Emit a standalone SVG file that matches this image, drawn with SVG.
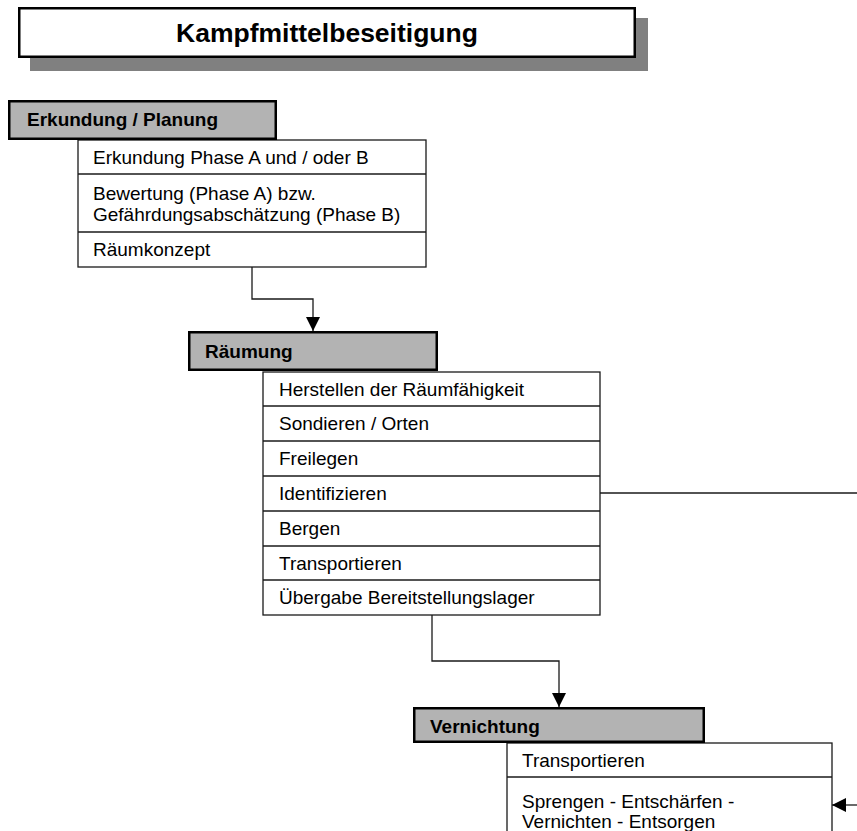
<svg xmlns="http://www.w3.org/2000/svg" width="857" height="831" viewBox="0 0 857 831">
<style>
  text { font-family: "Liberation Sans", Arial, sans-serif; fill: #000; }
  .title { font-size: 26.5px; font-weight: bold; }
  .hdr-text { font-size: 19px; font-weight: bold; }
  .item { font-size: 19px; }
  .hdr { fill: #b3b3b3; stroke: #000; stroke-width: 2.5; }
  .box { fill: #fff; stroke: #1a1a1a; stroke-width: 1.3; }
  .sep { stroke: #1a1a1a; stroke-width: 1.3; }
  .conn { fill: none; stroke: #1a1a1a; stroke-width: 1.3; }
</style>
<defs>
  <marker id="arrow" viewBox="0 0 10 10" refX="10" refY="5" markerWidth="14" markerHeight="14" markerUnits="userSpaceOnUse" orient="auto">
    <path d="M0,0 L10,5 L0,10 z" fill="#000"/>
  </marker>
</defs>
<rect width="857" height="831" fill="#fff"/>

<g id="title">
  <rect x="30" y="18" width="618" height="53" fill="#808080"/>
  <rect x="19.25" y="8.25" width="615.5" height="48.5" fill="#fff" stroke="#000" stroke-width="2.5"/>
  <text class="title" x="327" y="42" text-anchor="middle">Kampfmittelbeseitigung</text>
</g>

<g id="connectors">
  <path class="conn" d="M252,267 V299 H313 V331" marker-end="url(#arrow)"/>
  <path class="conn" d="M432,615 V661 H559 V707" marker-end="url(#arrow)"/>
  <path class="conn" d="M600,493 H857"/>
  <path class="conn" d="M857,805 H832" marker-end="url(#arrow)"/>
</g>

<g id="erkundung">
  <rect class="box" x="78" y="140" width="348" height="127"/>
  <line class="sep" x1="78" y1="174" x2="426" y2="174"/>
  <line class="sep" x1="78" y1="232" x2="426" y2="232"/>
  <text class="item" x="93" y="164">Erkundung Phase A und / oder B</text>
  <text class="item" x="93" y="200">Bewertung (Phase A) bzw.</text>
  <text class="item" x="93" y="221">Gefährdungsabschätzung (Phase B)</text>
  <text class="item" x="93" y="256">Räumkonzept</text>
  <rect class="hdr" x="9.25" y="101.25" width="266.5" height="37.5"/>
  <text class="hdr-text" x="27" y="126">Erkundung / Planung</text>
</g>

<g id="raeumung">
  <rect class="box" x="263" y="372" width="337" height="243"/>
  <line class="sep" x1="263" y1="406" x2="600" y2="406"/>
  <line class="sep" x1="263" y1="441" x2="600" y2="441"/>
  <line class="sep" x1="263" y1="476" x2="600" y2="476"/>
  <line class="sep" x1="263" y1="511" x2="600" y2="511"/>
  <line class="sep" x1="263" y1="546" x2="600" y2="546"/>
  <line class="sep" x1="263" y1="580" x2="600" y2="580"/>
  <text class="item" x="279" y="396">Herstellen der Räumfähigkeit</text>
  <text class="item" x="279" y="430">Sondieren / Orten</text>
  <text class="item" x="279" y="465">Freilegen</text>
  <text class="item" x="279" y="500">Identifizieren</text>
  <text class="item" x="279" y="535">Bergen</text>
  <text class="item" x="279" y="570">Transportieren</text>
  <text class="item" x="279" y="604">Übergabe Bereitstellungslager</text>
  <rect class="hdr" x="189.25" y="332.25" width="247.5" height="37.5"/>
  <text class="hdr-text" x="205" y="358">Räumung</text>
</g>

<g id="vernichtung">
  <rect class="box" x="507" y="743" width="325" height="100"/>
  <line class="sep" x1="507" y1="777" x2="832" y2="777"/>
  <text class="item" x="522" y="767">Transportieren</text>
  <text class="item" x="522" y="808">Sprengen - Entschärfen -</text>
  <text class="item" x="522" y="828">Vernichten - Entsorgen</text>
  <rect class="hdr" x="414.25" y="708.25" width="289.5" height="33.5"/>
  <text class="hdr-text" x="430" y="733">Vernichtung</text>
</g>
</svg>
